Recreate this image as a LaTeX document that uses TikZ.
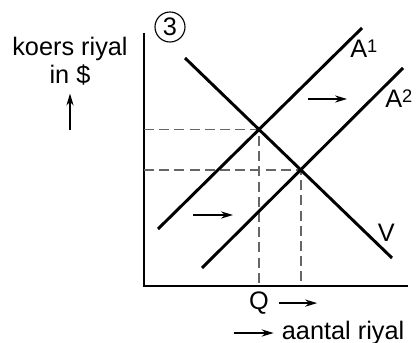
\documentclass[tikz,border=0pt]{standalone}
\usepackage{fontspec}
\setmainfont{Liberation Sans}
\usetikzlibrary{positioning, calc, intersections, arrows.meta}
\newcommand{\apice}[1]{\raisebox{4.2pt}{\fontsize{13}{13}\selectfont #1}}

\begin{document}
\begin{tikzpicture}
        [retta/.style={line width=2.1pt},
         tratteggio/.style={gray!80!black, line width=1.3pt, dash pattern=on 2.5mm off 1.3mm},
         freccia/.style={line width=0.9pt, -{Stealth[length=3mm, width=1.8mm]}},
         etichetta/.style={font=\fontsize{18}{20}\selectfont, inner sep=0pt}]
        \useasboundingbox (-3.6,-1.425) rectangle (6.85,7.15);
        %disegno assi
            \coordinate (O) at (0,0);
            \coordinate (ytop) at (0,6.325);
            \coordinate (xend) at (6.6,0);
            \draw[line width=1.4pt] (ytop) -- (O) -- (xend);
            %punti delle rette
            \coordinate (a1s) at (0.35,1.425);
            \coordinate (a1e) at (5.45,6.45);
            \coordinate (a2s) at (1.45,0.45);
            \coordinate (a2e) at (6.475,5.45);
            \coordinate (vs) at (1.025,5.7);
            \coordinate (ve) at (6.2,0.7);
            \path[name path=A1] (a1s) -- (a1e);
            \path[name path=A2] (a2s) -- (a2e);
            \path[name path=V] (vs) -- (ve);
            %intersezioni
            \path[name intersections={of=V and A1, by=E1}];
            \path[name intersections={of=V and A2, by=E2}];
            %disegno tratteggi
            \draw[tratteggio] (E1 -| O) -- (E1) -- (E1 |- O);
            \draw[tratteggio] (E2 -| O) -- (E2) -- (E2 |- O);
            %disegno rette
            \draw[retta] (a1s) -- (a1e);
            \draw[retta] (a2s) -- (a2e);
            \draw[retta] (vs) -- (ve);
            %frecce spostamento
            \coordinate (f1s) at (4.1,4.675);
            \coordinate (f1e) at (5.075,4.675);
            \coordinate (f2s) at (1.225,1.775);
            \coordinate (f2e) at (2.225,1.775);
            \draw[freccia] (f1s) -- (f1e);
            \draw[freccia] (f2s) -- (f2e);
            %label 
            \node[etichetta, anchor=base west] (labA1) at (5.15,5.7) {A\apice{1}};
            \node[etichetta, anchor=base west] (labA2) at (6.025,4.45) {A\apice{2}};
            \node[etichetta, anchor=base] (labV) at (6.06,1.1) {V};
            \node[etichetta, draw, circle, line width=0.8pt, minimum size=0.75cm] (tre) at (0.65,6.475) {3};

            \coordinate (Qfoot) at (E1 |- O);
            \node[etichetta, below=0.14 of Qfoot] (Q) {Q};
            \draw[freccia] ([xshift=0.25cm]Q.east) -- ++(0.95,0);

            \node[etichetta, anchor=west] (xlab) at (3.44,-1.175) {aantal riyal};
            \draw[freccia] ($(xlab.west)+(-1.2,0)$) -- ($(xlab.west)+(-0.2,0)$);

            \node[etichetta, align=center, anchor=north] (ylab) at (-1.85,6.23) {koers riyal\\in \$};
            \draw[freccia] ($(ylab.south)+(0,-1.1)$) -- ($(ylab.south)+(0,-0.2)$);
    \end{tikzpicture}
\end{document}
